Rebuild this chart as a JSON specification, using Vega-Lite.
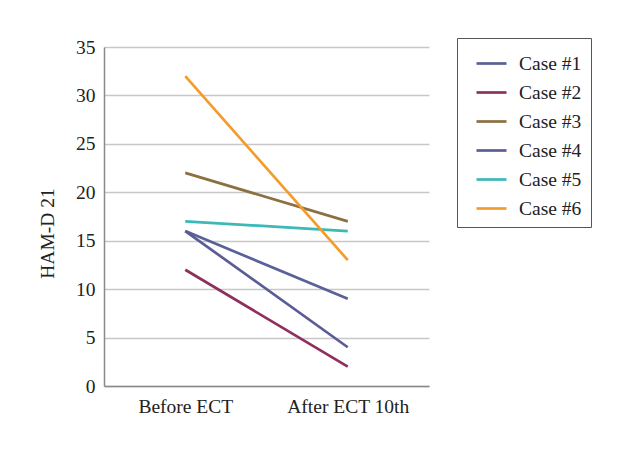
{
  "$schema": "https://vega.github.io/schema/vega-lite/v6.json",
  "autosize": "none",
  "width": 325,
  "height": 339,
  "padding": {"left": 104, "top": 47, "right": 209, "bottom": 63},
  "background": "white",
  "config": {
    "font": "Liberation Serif",
    "view": {"stroke": null}
  },
  "data": {
    "values": [
      {"case": "Case #1", "time": "Before ECT", "score": 16},
      {"case": "Case #1", "time": "After ECT 10th", "score": 9},
      {"case": "Case #2", "time": "Before ECT", "score": 12},
      {"case": "Case #2", "time": "After ECT 10th", "score": 2},
      {"case": "Case #3", "time": "Before ECT", "score": 22},
      {"case": "Case #3", "time": "After ECT 10th", "score": 17},
      {"case": "Case #4", "time": "Before ECT", "score": 16},
      {"case": "Case #4", "time": "After ECT 10th", "score": 4},
      {"case": "Case #5", "time": "Before ECT", "score": 17},
      {"case": "Case #5", "time": "After ECT 10th", "score": 16},
      {"case": "Case #6", "time": "Before ECT", "score": 32},
      {"case": "Case #6", "time": "After ECT 10th", "score": 13}
    ]
  },
  "mark": {"type": "line", "strokeWidth": 2.7},
  "encoding": {
    "x": {
      "field": "time",
      "type": "nominal",
      "sort": ["Before ECT", "After ECT 10th"],
      "scale": {"type": "point", "padding": 0.5},
      "axis": {
        "title": null,
        "labelAngle": 0,
        "labelFontSize": 19.5,
        "labelColor": "#222",
        "labelPadding": 11,
        "ticks": false,
        "grid": false,
        "domainColor": "#8a8a8a",
        "domainWidth": 1.5
      }
    },
    "y": {
      "field": "score",
      "type": "quantitative",
      "scale": {"domain": [0, 35]},
      "axis": {
        "title": "HAM-D 21",
        "titleFontSize": 19.5,
        "titleFontWeight": "normal",
        "titleColor": "#222",
        "titleX": -57,
        "titleY": 186,
        "titleAngle": 270,
        "titleAlign": "center",
        "titleBaseline": "middle",
        "values": [0, 5, 10, 15, 20, 25, 30, 35],
        "labelFontSize": 19.5,
        "labelColor": "#222",
        "labelPadding": 9,
        "ticks": false,
        "grid": true,
        "gridColor": "#c8c8c8",
        "gridWidth": 1.5,
        "domainColor": "#8a8a8a",
        "domainWidth": 1.5
      }
    },
    "color": {
      "field": "case",
      "type": "nominal",
      "scale": {
        "domain": ["Case #1", "Case #2", "Case #3", "Case #4", "Case #5", "Case #6"],
        "range": ["#5a6198", "#8e2f5c", "#8c7041", "#5b5b96", "#3bb8b8", "#f39c2c"]
      },
      "legend": {
        "title": null,
        "orient": "none",
        "legendX": 353,
        "legendY": -9,
        "strokeColor": "#555",
        "padding": 9,
        "symbolOffset": 9,
        "symbolType": "stroke",
        "symbolSize": 900,
        "symbolStrokeWidth": 2.7,
        "labelFontSize": 19.5,
        "labelColor": "#222",
        "labelOffset": 11,
        "rowPadding": 3
      }
    }
  }
}
